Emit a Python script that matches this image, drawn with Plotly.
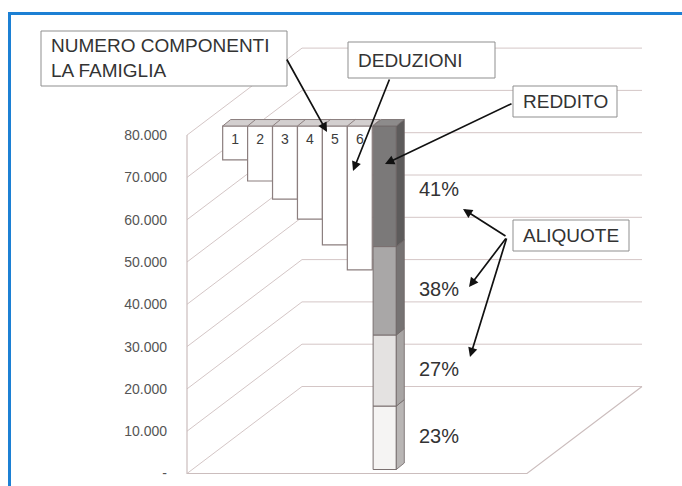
import plotly.graph_objects as go

# ---------------- data ----------------
tick_values = [0, 10000, 20000, 30000, 40000, 50000, 60000, 70000, 80000]
tick_labels = ["-", "10.000", "20.000", "30.000", "40.000", "50.000", "60.000", "70.000", "80.000"]

componenti = ["1", "2", "3", "4", "5", "6"]          # numero componenti la famiglia
deduzioni = [8000, 13000, 17300, 22000, 28100, 34000]  # deduzioni per componenti
reddito = 81200                                         # reddito totale

aliquote = ["23%", "27%", "38%", "41%"]
scaglioni = [15000, 16800, 20900, 28500]                # parti del reddito per aliquota

seg_front = ["#f5f4f3", "#e4e2e1", "#a9a7a7", "#7b7979"]
seg_side = ["#b9b6b5", "#a8a5a4", "#767373", "#5d5b5b"]

# ---------------- geometry / scales ----------------
W, H = 682, 486
PX_X0, PX_PER_X = 210.2, 24.93      # pixel of x=0, pixels per category
PX_Y0, PX_PER_Y = 473.5, 0.00423    # pixel of value 0, pixels per unit


def X(px):
    return (px - PX_X0) / PX_PER_X


def Y(py):
    return (PX_Y0 - py) / PX_PER_Y


x_range = [X(0), X(W)]
y_range = [Y(H), Y(0)]

XF = X(187)          # front-left vertical edge
XR = X(527)          # front-right floor corner
DX = 115 / PX_PER_X  # depth offset of the walls
DY = 87 / PX_PER_Y
BAR_SHIFT = 4 / PX_PER_Y     # bars sit a little behind the front plane
BDX = 8 / PX_PER_X           # bar depth
BDY = 6.5 / PX_PER_Y
GRID = "#d4c6c6"
EDGE = "#8c7f7f"
FONT = "Liberation Sans, Arial, sans-serif"
AXIS_MAX = tick_values[-1]

fig = go.Figure()

# ---------------- 3D walls (shapes below traces) ----------------
shapes = []
for v in tick_values:
    shapes.append(dict(type="path", layer="below", xref="x", yref="y",
                       path=f"M {XF} {v} L {XF + DX} {v + DY} L {XR + DX} {v + DY}",
                       line=dict(color=GRID, width=1)))
shapes.append(dict(type="path", layer="below", xref="x", yref="y",
                   path=f"M {XF} {AXIS_MAX} L {XF} 0 L {XR} 0 L {XR + DX} {DY}",
                   line=dict(color="#cbbdbd", width=1.2)))

# ---------------- deduction bars ----------------
xd = list(range(1, len(deduzioni) + 1))
top = reddito + BAR_SHIFT
fig.add_trace(go.Bar(x=xd, y=deduzioni, base=[top - d for d in deduzioni], width=1.0,
                     marker=dict(color="white", line=dict(color=EDGE, width=1.2)),
                     hoverinfo="skip", showlegend=False))

# ---------------- reddito stacked bar ----------------
xr = len(deduzioni) + 1
WR = 0.93
start = BAR_SHIFT
starts = []
for seg, cf in zip(scaglioni, seg_front):
    starts.append(start)
    fig.add_trace(go.Bar(x=[xr], y=[seg], base=[start], width=WR,
                         marker=dict(color=cf, line=dict(color="#7a7070", width=1)),
                         hoverinfo="skip", showlegend=False))
    start += seg

# top slab of deduction bars
x0, x1 = 0.5, len(deduzioni) + 0.5
fig.add_trace(go.Scatter(x=[x0, x0 + BDX, x1 + BDX, x1, x0], y=[top, top + BDY, top + BDY, top, top],
                         fill="toself", fillcolor="#d3cfcf", mode="lines",
                         line=dict(color=EDGE, width=1), hoverinfo="skip", showlegend=False))
dvx, dvy = [], []
for b in range(1, len(deduzioni)):
    dvx += [b + 0.5, b + 0.5 + BDX, None]
    dvy += [top, top + BDY, None]
fig.add_trace(go.Scatter(x=dvx, y=dvy, mode="lines", line=dict(color=EDGE, width=1),
                         hoverinfo="skip", showlegend=False))

# side faces of reddito segments
xl, xrr = xr - WR / 2, xr + WR / 2
for s, seg, cs in zip(starts, scaglioni, seg_side):
    e = s + seg
    fig.add_trace(go.Scatter(x=[xrr, xrr + BDX, xrr + BDX, xrr, xrr], y=[s, s + BDY, e + BDY, e, s],
                             fill="toself", fillcolor=cs, mode="lines",
                             line=dict(color="#6e6666", width=0.8), hoverinfo="skip", showlegend=False))
# top face of reddito
tr = starts[-1] + scaglioni[-1]
fig.add_trace(go.Scatter(x=[xl, xl + BDX, xrr + BDX, xrr, xl], y=[tr, tr + BDY, tr + BDY, tr, tr],
                         fill="toself", fillcolor="#8d8b8b", mode="lines",
                         line=dict(color="#6e6666", width=0.8), hoverinfo="skip", showlegend=False))

# numbers inside deduction bars
fig.add_trace(go.Scatter(x=xd, y=[top - 14 / PX_PER_Y] * len(xd), mode="text", text=componenti,
                         textfont=dict(family=FONT, size=14, color="#3c3c3c"),
                         hoverinfo="skip", showlegend=False))

# percentage labels, centred on the visible part of each segment
mids = [(s + min(s + seg, AXIS_MAX)) / 2 for s, seg in zip(starts, scaglioni)]
fig.add_trace(go.Scatter(x=[X(439)] * len(aliquote), y=mids, mode="text", text=aliquote,
                         textfont=dict(family=FONT, size=20, color="#333333"),
                         hoverinfo="skip", showlegend=False))

# ---------------- label boxes ----------------
boxes = [
    ("NUMERO COMPONENTI<br>LA FAMIGLIA", 41, 31, 287, 86),
    ("DEDUZIONI", 348, 42, 495, 78),
    ("REDDITO", 513, 86, 617, 117),
    ("ALIQUOTE", 513, 220, 629, 251),
]
annotations = []
for txt, bx0, by0, bx1, by1 in boxes:
    shapes.append(dict(type="rect", layer="above", xref="paper", yref="paper",
                       x0=bx0 / W, x1=bx1 / W, y0=1 - by0 / H, y1=1 - by1 / H,
                       fillcolor="white", line=dict(color="#8f8f8f", width=1)))
    annotations.append(dict(xref="paper", yref="paper", x=(bx0 + 8) / W, y=1 - (by0 + by1) / 2 / H,
                            xanchor="left", yanchor="middle", align="left", showarrow=False,
                            text=txt, font=dict(family=FONT, size=19, color="#333333")))

# arrows (tail pixel -> head pixel)
arrows = [
    ((286, 58), (327, 132)),
    ((390, 78), (353, 171)),
    ((513, 103), (385, 164)),
    ((507, 237), (463, 209)),
    ((507, 237), (469, 287)),
    ((507, 237), (470, 357)),
]
for (tx, ty), (hx, hy) in arrows:
    annotations.append(dict(xref="x", yref="y", axref="x", ayref="y",
                            x=X(hx), y=Y(hy), ax=X(tx), ay=Y(ty), text="",
                            showarrow=True, arrowhead=2, arrowsize=1.1, arrowwidth=1.7,
                            arrowcolor="#111111"))

# outer blue frame
shapes.append(dict(type="line", xref="paper", yref="paper", x0=9.5 / W, x1=9.5 / W,
                   y0=1 - 12 / H, y1=0, line=dict(color="#1c80d4", width=3)))
shapes.append(dict(type="line", xref="paper", yref="paper", x0=8 / W, x1=1,
                   y0=1 - 13.5 / H, y1=1 - 13.5 / H, line=dict(color="#1c80d4", width=3)))

fig.update_layout(
    width=W, height=H, autosize=False,
    margin=dict(l=0, r=0, t=0, b=0, pad=0),
    paper_bgcolor="white", plot_bgcolor="white",
    barmode="overlay", showlegend=False,
    shapes=shapes, annotations=annotations,
    xaxis=dict(range=x_range, visible=False, fixedrange=True),
    yaxis=dict(range=y_range, anchor="free", position=187 / W,
               tickvals=tick_values, ticktext=tick_labels, ticks="", ticklabelstandoff=20,
               showgrid=False, zeroline=False, showline=False, fixedrange=True,
               tickfont=dict(family=FONT, size=14, color="#555555")),
)

fig.write_html("out.html", config={"displayModeBar": False},
               post_script="document.body.style.margin='0';")
